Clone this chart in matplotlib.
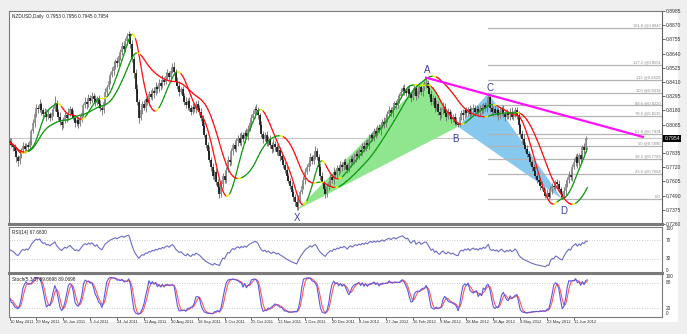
#!/usr/bin/env python3
"""NZDUSD daily: candles, colour-coded Hull averages, XABCD pattern, RSI and stochastic panes."""

import numpy as np
import pandas as pd
import matplotlib
matplotlib.use("Agg")
import matplotlib.pyplot as plt
from matplotlib.collections import LineCollection
from matplotlib.patches import Polygon, Rectangle
from matplotlib.transforms import blended_transform_factory

plt.rcParams["font.family"] = ["Liberation Sans", "DejaVu Sans"]

W, H = 687, 334

# daily closes in pips (price * 1e4), first bar 10 May 2011
close_pips = [
    7925, 7900, 7880, 7850, 7800, 7770, 7810, 7860, 7890, 7870,
    7900, 7880, 7930, 8010, 8080, 8150, 8200, 8190, 8230, 8180,
    8150, 8170, 8130, 8150, 8120, 8160, 8190, 8240, 8170, 8130,
    8090, 8060, 8100, 8140, 8120, 8160, 8190, 8150, 8120, 8080,
    8100, 8070, 8110, 8160, 8220, 8250, 8230, 8280, 8260, 8300,
    8270, 8240, 8280, 8230, 8200, 8180, 8250, 8330, 8370, 8420,
    8470, 8500, 8540, 8580, 8560, 8620, 8650, 8700, 8680, 8740,
    8780, 8800, 8720, 8600, 8480, 8350, 8250, 8120, 8180, 8230,
    8200, 8270, 8250, 8310, 8290, 8340, 8320, 8370, 8350, 8400,
    8380, 8430, 8410, 8460, 8480, 8450, 8500, 8530, 8490, 8420,
    8380, 8330, 8350, 8300, 8250, 8220, 8260, 8200, 8170, 8210,
    8190, 8230, 8200, 8170, 8120, 8050, 7980, 7900, 7850, 7780,
    7720, 7650, 7680, 7600, 7560, 7500, 7580, 7650, 7620, 7700,
    7780, 7760, 7850, 7900, 7870, 7930, 7960, 7920, 7980, 7950,
    8000, 7970, 8030, 8080, 8120, 8150, 8190, 8180, 8140, 8060,
    7990, 7950, 7980, 7920, 7950, 7900, 7870, 7910, 7880, 7840,
    7860, 7810, 7780, 7740, 7700, 7650, 7610, 7570, 7520, 7480,
    7440, 7400, 7460, 7520, 7570, 7620, 7680, 7720, 7750, 7800,
    7770, 7820, 7850, 7800, 7720, 7650, 7600, 7540, 7500, 7560,
    7600, 7640, 7620, 7680, 7660, 7710, 7690, 7740, 7720, 7760,
    7740, 7700, 7750, 7790, 7760, 7800, 7830, 7810, 7860, 7840,
    7890, 7870, 7920, 7900, 7950, 7980, 7960, 8010, 7990, 8040,
    8020, 8060, 8090, 8070, 8120, 8150, 8180, 8160, 8210, 8240,
    8220, 8270, 8300, 8330, 8360, 8340, 8320, 8350, 8310, 8280,
    8330, 8360, 8300, 8340, 8370, 8330, 8360, 8390, 8400, 8360,
    8310, 8250, 8280, 8200, 8230, 8170, 8140, 8180, 8210, 8160,
    8130, 8170, 8140, 8110, 8130, 8090, 8070, 8060, 8130, 8160,
    8140, 8180, 8160, 8190, 8150, 8180, 8200, 8170, 8190, 8160,
    8200, 8180, 8220, 8200, 8240, 8290, 8200, 8170, 8190, 8160,
    8180, 8140, 8170, 8190, 8150, 8130, 8160, 8140, 8170, 8130,
    8150, 8180, 8140, 8060, 7990, 7950, 7900, 7870, 7830, 7800,
    7760, 7720, 7690, 7650, 7620, 7600, 7570, 7550, 7520, 7490,
    7510, 7480, 7540, 7570, 7560, 7600, 7580, 7540, 7500, 7480,
    7530, 7580, 7620, 7660, 7640, 7720, 7760, 7800, 7750, 7820,
    7790, 7880, 7860, 7953, 7954,
]
first_open_pips = 7935

# shadow lengths in pips above / below the candle body
wick_up = [
    22, 30, 18, 26, 35, 20, 28, 16, 32, 24,
    19, 27, 36, 21, 29, 17, 33, 25, 40, 22,
    18, 31, 24, 37, 20, 28, 23, 55, 26, 19,
    34, 21, 27, 30, 18, 36, 25, 20, 31, 23,
    28, 17, 35, 26, 22, 38, 19, 29, 24, 33,
    21, 36, 18, 27, 31, 20, 25, 34, 19, 30,
    23, 29, 37, 20, 32, 18, 26, 35, 22, 28,
    25, 20, 10, 30, 24, 33, 40, 21, 36, 27,
    38, 19, 30, 24, 35, 22, 28, 39, 18, 31,
    26, 34, 20, 29, 37, 23, 18, 32, 41, 22,
    27, 35, 21, 30, 19, 36, 24, 31, 20, 33,
    18, 28, 37, 22, 31, 25, 34, 19, 27, 39,
    23, 30, 18, 35, 26, 29, 38, 21, 32, 20,
    34, 24, 28, 19, 37, 30, 22, 33, 25, 27,
    20, 36, 31, 22, 27, 34, 24, 40, 30, 21,
    33, 25, 28, 37, 19, 30, 23, 35, 26, 29,
    38, 20, 31, 24, 22, 34, 27, 19, 32, 25,
    21, 28, 35, 18, 30, 26, 37, 22, 29, 34,
    19, 31, 40, 25, 23, 35, 28, 20, 33, 24,
    36, 22, 27, 38, 19, 31, 25, 34, 21, 28,
    32, 18, 37, 24, 29, 35, 21, 30, 19, 27,
    25, 34, 22, 31, 38, 20, 28, 24, 35, 23,
    30, 26, 19, 37, 28, 22, 34, 25, 31, 18,
    27, 36, 21, 30, 24, 35, 19, 28, 37, 22,
    31, 25, 34, 20, 29, 18, 36, 30, 45, 26,
    22, 33, 28, 19, 31, 25, 37, 21, 34, 27,
    18, 30, 24, 35, 22, 28, 38, 19, 31, 26,
    34, 21, 29, 18, 37, 25, 32, 22, 35, 28,
    24, 33, 19, 30, 25, 28, 21, 34, 25, 31,
    19, 28, 36, 23, 30, 25, 34, 18, 29, 37,
    22, 31, 26, 35, 19, 28, 37, 23, 32, 25,
    34, 20, 29, 37, 22, 31, 26, 35, 19, 28,
    36, 23, 30, 25, 34, 19, 28, 37, 22, 31,
    26, 35, 20, 29, 38, 22, 31, 25, 34, 19,
    28, 23, 33, 20, 2,
]
wick_dn = [
    26, 19, 31, 23, 35, 40, 21, 18, 28, 33,
    22, 30, 19, 27, 17, 34, 24, 29, 20, 36,
    25, 18, 32, 23, 29, 20, 27, 17, 35, 24,
    30, 38, 21, 26, 33, 18, 24, 31, 20, 36,
    27, 32, 19, 23, 30, 17, 35, 24, 28, 21,
    33, 24, 18, 30, 27, 36, 20, 23, 32, 18,
    26, 21, 35, 24, 30, 19, 33, 25, 20, 28,
    30, 24, 33, 27, 36, 30, 24, 40, 21, 27,
    18, 30, 24, 33, 21, 27, 36, 19, 30, 24,
    33, 21, 27, 18, 30, 24, 36, 21, 27, 33,
    24, 30, 18, 36, 27, 21, 33, 24, 30, 19,
    27, 33, 21, 30, 24, 36, 18, 27, 33, 21,
    30, 24, 36, 27, 33, 30, 21, 30, 24, 27,
    18, 33, 24, 30, 21, 27, 36, 19, 30, 24,
    33, 21, 27, 18, 36, 24, 30, 21, 27, 33,
    24, 36, 18, 30, 27, 21, 33, 24, 30, 19,
    27, 36, 21, 30, 24, 33, 18, 27, 36, 30,
    33, 27, 24, 30, 21, 27, 33, 18, 30, 24,
    27, 21, 33, 24, 30, 36, 18, 27, 33, 24,
    21, 30, 24, 33, 18, 27, 36, 21, 30, 24,
    33, 27, 21, 30, 24, 18, 36, 27, 21, 33,
    24, 30, 18, 27, 36, 21, 30, 24, 33, 19,
    27, 36, 21, 30, 24, 33, 18, 27, 36, 21,
    30, 24, 33, 18, 27, 36, 21, 30, 24, 33,
    19, 27, 36, 21, 30, 24, 33, 18, 27, 36,
    21, 30, 24, 33, 18, 27, 36, 20, 30, 24,
    33, 18, 27, 36, 21, 30, 12, 12, 10, 27,
    36, 21, 30, 24, 33, 18, 27, 36, 21, 30,
    24, 33, 18, 27, 36, 21, 30, 24, 33, 19,
    27, 36, 21, 30, 24, 33, 18, 27, 36, 21,
    30, 24, 33, 18, 27, 36, 21, 30, 24, 33,
    19, 27, 36, 21, 30, 24, 33, 18, 27, 22,
    21, 18, 12, 33, 18, 27, 30, 21, 30, 18,
    12, 36, 21, 30, 24, 33, 18, 27, 36, 21,
    30, 24, 33, 18, 8,
]

date_labels = [
    "10 May 2011", "29 May 2011", "16 Jun 2011", "5 Jul 2011", "24 Jul 2011",
    "11 Aug 2011", "30 Aug 2011", "18 Sep 2011", "6 Oct 2011", "25 Oct 2011",
    "13 Nov 2011", "1 Dec 2011", "20 Dec 2011", "8 Jan 2012", "27 Jan 2012",
    "16 Feb 2012", "9 Mar 2012", "28 Mar 2012", "16 Apr 2012", "4 May 2012",
    "23 May 2012", "11 Jun 2012",
]
bars_per_label = 16

# XABCD swing points (bar index, which extreme of the bar)
xabcd_names = ["X", "A", "B", "C", "D"]
xabcd_bars = [171, 248, 267, 285, 329]
xabcd_side = ["low", "high", "low", "high", "low"]
xabcd_offsets = [(0, -6), (1, 5.5), (-2, -9), (1, 4), (1, -8.5)]

fib_ratios = [0.0, 23.6, 38.2, 50.0, 61.8, 78.6, 88.6, 100.0, 113.0, 127.2, 161.8]

trend_bars = [248, 377]
trend_prices = [0.8445, 0.7965]

price_ticks = [0.7260, 0.7375, 0.7490, 0.7605, 0.7720, 0.7835, 0.8065, 0.8180,
               0.8295, 0.8410, 0.8525, 0.8640, 0.8755, 0.8870, 0.8985]

header_main = "NZDUSD,Daily  0.7953 0.7956 0.7945 0.7954"
header_rsi = "RSI(14) 67.6830"
header_stoch = "Stoch(5,3,3) 89.6698 89.0698"

GREEN, RED, YELLOW = "#139a13", "#ff1010", "#f0f000"
FRAME = "#7a7a7a"


def fbox(x0, y0, x1, y1):
    return [x0 / W, 1 - y1 / H, (x1 - x0) / W, (y1 - y0) / H]


def wma(x, n):
    out = np.empty_like(x)
    for i in range(len(x)):
        seg = x[max(0, i - n + 1): i + 1]
        w = np.arange(1, len(seg) + 1)
        out[i] = np.dot(seg, w) / w.sum()
    return out


def hull(x, n):
    return wma(2 * wma(x, n // 2) - wma(x, n), int(round(np.sqrt(n))))


def wilder_rsi(x, n=14):
    d = np.diff(x)
    seed = np.abs(d[:n]).mean() / 2
    g = l = seed
    out = [50.0]
    for v in d:
        g = (g * (n - 1) + max(v, 0)) / n
        l = (l * (n - 1) + max(-v, 0)) / n
        out.append(100 - 100 / (1 + g / l))
    return np.array(out)


def slope_coloured(ax, y, lw=1.0):
    x = np.arange(len(y))
    pts = np.column_stack([x, y])
    segs = np.stack([pts[:-1], pts[1:]], axis=1)
    rising = np.diff(y) >= 0
    cols = np.where(rising, GREEN, RED).astype(object)
    turn = np.zeros(len(rising), bool)
    turn[1:] = rising[1:] != rising[:-1]
    cols[turn] = YELLOW
    cols[np.roll(turn, 1) & ~turn] = YELLOW
    ax.add_collection(LineCollection(segs, colors=list(cols), linewidths=lw,
                                     zorder=4, capstyle="round"))


def style_pane(ax):
    ax.set_facecolor("white")
    for s in ax.spines.values():
        s.set_color(FRAME)
        s.set_linewidth(0.8)
    ax.set_xticks([])
    ax.set_yticks([])


c = np.array(close_pips) / 1e4
o = np.concatenate([[first_open_pips / 1e4], c[:-1]])
hi = np.maximum(o, c) + np.array(wick_up) / 1e4
lo = np.minimum(o, c) - np.array(wick_dn) / 1e4
idx = np.arange(len(c))
xlim = (-0.3, 388.4)

fig = plt.figure(figsize=(W / 100, H / 100), dpi=100)
fig.patch.set_facecolor("#efefef")
fig.patches.append(Rectangle((9 / W, 1 - 322 / H), 669 / W, 311 / H,
                             transform=fig.transFigure, facecolor="white",
                             edgecolor="none", zorder=-10))

# ---- price pane
ax = fig.add_axes(fbox(9, 11, 662, 224))
style_pane(ax)
ax.set_xlim(*xlim)
ax.set_ylim(0.7260, 0.8985)
ax.spines["bottom"].set_linewidth(2.2)

# XABCD triangles
pt_price = [lo[b] if s == "low" else hi[b] for b, s in zip(xabcd_bars, xabcd_side)]
pts = list(zip(xabcd_bars, pt_price))
ax.add_patch(Polygon([pts[0], pts[1], pts[2]], closed=True, facecolor="#8fe68f",
                     edgecolor="none", zorder=1))
ax.add_patch(Polygon([pts[2], pts[3], pts[4]], closed=True, facecolor="#86c8ee",
                     edgecolor="none", zorder=1))

# fibonacci levels from D up to C
d_low, c_high = pt_price[4], pt_price[3]
for r in fib_ratios:
    lvl = d_low + (c_high - d_low) * r / 100
    ax.plot([xabcd_bars[3], xlim[1]], [lvl, lvl], color="#b4b4b4", lw=0.9, zorder=1.5)
    ax.text(xlim[1] - 0.8, lvl + 0.0004, f"{r:g} @{lvl:.4f}" if r else "0.0",
            fontsize=3.0, color="#8a8a8a", ha="right", va="bottom", zorder=1.6)

ax.axhline(c[-1], color="#c8c8c8", lw=0.8, zorder=0.8)

# candles
ax.vlines(idx, lo, hi, color="#6e6e6e", lw=0.6, zorder=2)
bull = c >= o
ax.vlines(idx[bull], o[bull], c[bull], color="#8c8c8c", lw=1.2, zorder=2.1)
ax.vlines(idx[~bull], o[~bull], c[~bull], color="#101010", lw=1.2, zorder=2.1)

slope_coloured(ax, hull(c, 30), lw=0.9)
slope_coloured(ax, hull(c, 70), lw=0.9)

ax.plot(trend_bars, trend_prices, color="#ff10ff", lw=1.6, zorder=5)

for name, (bx, py), (dx, dy) in zip(xabcd_names, pts, xabcd_offsets):
    ax.annotate(name, (bx, py), xytext=(dx, dy), textcoords="offset points",
                ha="center", va="center", fontsize=7, color="#3a3aa8", zorder=6)

ax.yaxis.tick_right()
ax.set_yticks(price_ticks)
ax.set_yticklabels([f"{t:.4f}" for t in price_ticks])
ax.tick_params(axis="y", labelsize=3.6, length=2, width=0.5, pad=1, colors="#303030")
ax.spines["right"].set_color("#606060")
trans = blended_transform_factory(ax.transAxes, ax.transData)
ax.text(1.004, c[-1], f"{c[-1]:.4f}", transform=trans, fontsize=3.6, color="white",
        ha="left", va="center", zorder=7,
        bbox=dict(boxstyle="square,pad=0.25", facecolor="black", edgecolor="none"))
ax.text(0.004, 0.985, header_main, transform=ax.transAxes, fontsize=3.4,
        ha="left", va="top", color="#202020")

# ---- RSI pane
rsi = wilder_rsi(c, 14)

ax_r = fig.add_axes(fbox(9, 226.5, 662, 272.5))
style_pane(ax_r)
ax_r.spines["bottom"].set_linewidth(2.2)
ax_r.set_xlim(*xlim)
ax_r.set_ylim(0, 100)
for lvl in (70, 30):
    ax_r.axhline(lvl, color="#b8b8b8", lw=0.6, ls=(0, (1, 2)))
ax_r.plot(idx, rsi, color="#6c6cc8", lw=0.8)
ax_r.text(0.004, 0.93, header_rsi, transform=ax_r.transAxes, fontsize=3.4,
          ha="left", va="top", color="#202020")
rtrans = blended_transform_factory(ax_r.transAxes, ax_r.transData)
for lab, yv in (("100", 95), ("70", 70), ("30", 30), ("0", 5)):
    ax_r.text(1.006, yv, lab, transform=rtrans, fontsize=3.4, ha="left", va="center",
              color="#303030", clip_on=False)

# ---- stochastic pane
hh = pd.Series(hi).rolling(5, min_periods=1).max()
ll = pd.Series(lo).rolling(5, min_periods=1).min()
num = (pd.Series(c) - ll).rolling(3, min_periods=1).sum()
den = (hh - ll).rolling(3, min_periods=1).sum()
k_line = (100 * num / den).to_numpy()
d_line = pd.Series(k_line).rolling(3, min_periods=1).mean().to_numpy()

ax_s = fig.add_axes(fbox(9, 274, 662, 316.5))
style_pane(ax_s)
ax_s.set_xlim(*xlim)
ax_s.set_ylim(0, 100)
for lvl in (80, 20):
    ax_s.axhline(lvl, color="#b8b8b8", lw=0.6, ls=(0, (1, 2)))
ax_s.plot(idx, d_line, color="#ff5a5a", lw=0.8)
ax_s.plot(idx, k_line, color="#5a5ae6", lw=0.8)
ax_s.text(0.004, 0.93, header_stoch, transform=ax_s.transAxes, fontsize=3.4,
          ha="left", va="top", color="#202020")
strans = blended_transform_factory(ax_s.transAxes, ax_s.transData)
for lab, yv in (("100", 93), ("80", 80), ("20", 20), ("0", 7)):
    ax_s.text(1.006, yv, lab, transform=strans, fontsize=3.4, ha="left", va="center",
              color="#303030", clip_on=False)

tick_bars = np.arange(len(date_labels)) * bars_per_label
ax_s.set_xticks(tick_bars)
ax_s.set_xticklabels(date_labels)
ax_s.tick_params(axis="x", labelsize=3.0, length=2, width=0.5, pad=0.5, colors="#303030")
for t in ax_s.get_xticklabels():
    t.set_ha("left")

fig.savefig("out.png", dpi=100)
